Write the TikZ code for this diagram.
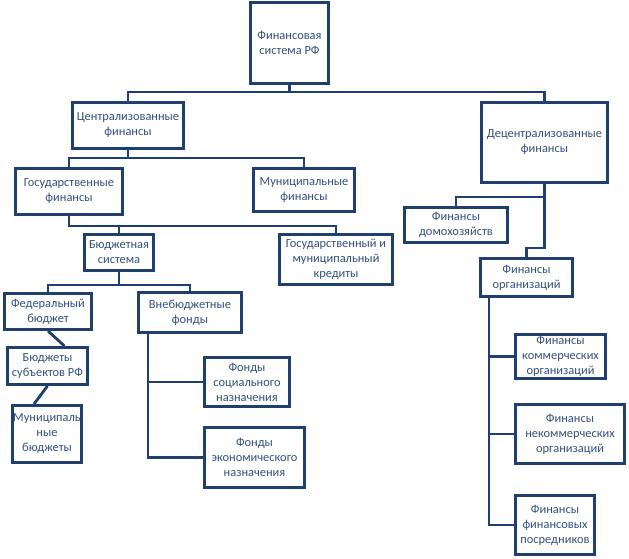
\documentclass[tikz,border=0pt]{standalone}
\usepackage{fontspec}
\setmainfont{Carlito}
\usetikzlibrary{calc}
\definecolor{bord}{HTML}{1F3F6E}
\definecolor{txt}{HTML}{34507A}
\newcommand\mybox[6]{\node[box, minimum width={(#4-#2-3)*1pt}, minimum height={(#5-#3-3)*1pt}] (#1) at ({(#2+#4)/2},{(#3+#5)/2}) {#6};}
\begin{document}
\begin{tikzpicture}[x=1pt,y=-1pt,
  box/.style={draw=bord, line width=3pt, fill=white, align=center, inner sep=0pt, text=txt, font=\fontsize{12.4}{15}\selectfont},
  conn/.style={draw=bord, line width=2.8pt}]
\useasboundingbox (0,0) rectangle (629,558);
\mybox{root}{249}{1}{330}{85}{Финансовая\\система РФ}
\mybox{central}{71}{101}{185}{150}{Централизованные\\финансы}
\mybox{decentral}{480}{101}{609}{184}{Децентрализованные\\финансы}
\mybox{gos}{14}{167}{124}{216}{Государственные\\финансы}
\mybox{mun}{252}{167}{356}{213}{Муниципальные\\финансы}
\mybox{budget}{83}{233}{155}{272}{Бюджетная\\система}
\mybox{credits}{278}{233}{394}{286}{Государственный и\\муниципальный\\кредиты}
\mybox{fed}{3}{292}{93}{331}{Федеральный\\бюджет}
\mybox{vneb}{137}{291}{243}{334}{Внебюджетные\\фонды}
\mybox{subj}{6}{346}{89}{386}{Бюджеты\\субъектов РФ}
\mybox{munb}{11}{404}{83}{464}{Муниципаль\\ные\\бюджеты}
\mybox{soc}{203}{356}{291}{408}{Фонды\\социального\\назначения}
\mybox{econ}{203}{426}{306}{489}{Фонды\\экономического\\назначения}
\mybox{hh}{403}{206}{509}{244}{Финансы\\домохозяйств}
\mybox{org}{479}{257}{574}{298}{Финансы\\организаций}
\mybox{comm}{514}{333}{607}{380}{Финансы\\коммерческих\\организаций}
\mybox{noncomm}{514}{403}{626}{465}{Финансы\\некоммерческих\\организаций}
\mybox{fin}{514}{494}{596}{556}{Финансы\\финансовых\\посредников}
% connectors
\coordinate (j1) at (290,92);
\draw[conn] (root.south) -- (root.south |- j1);
\draw[conn] (central.north) |- (j1) -| (decentral.north);
\coordinate (j2) at (128,158);
\draw[conn] (central.south) -- (j2);
\draw[conn] (gos.north) |- (j2) -| (mun.north);
\coordinate (j3) at (69,226);
\draw[conn] (gos.south) -- (j3) -| (credits.north);
\draw[conn] (budget.north) -- (budget.north |- j3);
\coordinate (j4) at (119,285);
\draw[conn] (budget.south) -- (j4);
\draw[conn] (fed.north) |- (j4) -| (vneb.north);
\draw[conn] (fed.south) -- ($(subj.north)+(17,0)$);
\draw[conn] (subj.south) -- ($(munb.north)+(-13,0)$);
\coordinate (v1) at ($(vneb.south west)+(11,0)$);
\draw[conn] (v1) |- (econ.west);
\draw[conn] (soc.west) -- (soc.west -| v1);
\coordinate (d1) at (544.5,197);
\coordinate (d2) at (544.5,248);
\draw[conn] (decentral.south) -- (d2) -| (org.north);
\draw[conn] (d1) -| (hh.north);
\coordinate (o1) at ($(org.south west)+(10,0)$);
\draw[conn] (o1) |- (fin.west);
\draw[conn] (comm.west) -- (comm.west -| o1);
\draw[conn] (noncomm.west) -- (noncomm.west -| o1);
\end{tikzpicture}
\end{document}
